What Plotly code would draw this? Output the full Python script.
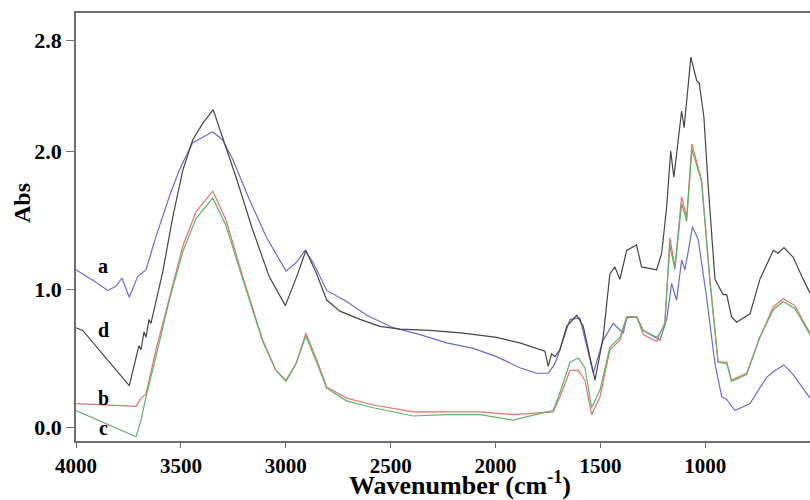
import plotly.graph_objects as go

# ---- data ----
wn_a = [4000, 3905, 3849, 3809, 3781, 3746, 3706, 3666, 3619, 3555, 3508, 3444, 3396, 3348, 3301, 3253,
        3174, 3094, 2999, 2951, 2908, 2869, 2805, 2710, 2614, 2488, 2360, 2233, 2106, 1995, 1884, 1804,
        1749, 1725, 1709, 1645, 1598, 1534, 1487, 1439, 1391, 1375, 1328, 1296, 1216, 1184, 1161, 1137,
        1113, 1097, 1061, 1034, 994, 954, 922, 898, 859, 787, 708, 668, 625, 581, 501]
abs_a = [1.14, 1.05, 0.99, 1.02, 1.08, 0.94, 1.09, 1.14, 1.38, 1.67, 1.86, 2.06, 2.10, 2.14, 2.08, 1.94,
         1.65, 1.38, 1.13, 1.19, 1.28, 1.19, 0.99, 0.91, 0.81, 0.72, 0.67, 0.61, 0.57, 0.51, 0.43, 0.39,
         0.39, 0.44, 0.49, 0.78, 0.79, 0.39, 0.63, 0.75, 0.68, 0.79, 0.80, 0.70, 0.63, 0.78, 1.04, 0.92,
         1.21, 1.14, 1.45, 1.36, 0.94, 0.46, 0.22, 0.20, 0.12, 0.17, 0.36, 0.41, 0.45, 0.38, 0.21]

wn_d = [4000, 3968, 3746, 3714, 3700, 3690, 3676, 3666, 3652, 3643, 3619, 3587, 3539, 3491, 3444, 3396,
        3346, 3301, 3237, 3158, 3079, 3002, 2948, 2904, 2853, 2805, 2742, 2646, 2551, 2456, 2313, 2154,
        1995, 1884, 1765, 1749, 1733, 1717, 1693, 1661, 1613, 1582, 1526, 1487, 1455, 1431, 1407, 1375,
        1328, 1304, 1232, 1208, 1184, 1165, 1150, 1113, 1101, 1069, 1041, 1029, 1007, 986, 954, 915,
        898, 875, 851, 787, 740, 676, 653, 625, 581, 533, 501]
abs_d = [0.72, 0.70, 0.30, 0.51, 0.59, 0.56, 0.69, 0.65, 0.78, 0.75, 0.90, 1.12, 1.52, 1.86, 2.08, 2.20,
         2.30, 2.10, 1.81, 1.43, 1.09, 0.88, 1.09, 1.28, 1.11, 0.92, 0.84, 0.78, 0.73, 0.71, 0.70, 0.68,
         0.65, 0.61, 0.55, 0.44, 0.53, 0.51, 0.56, 0.73, 0.81, 0.73, 0.34, 0.65, 1.11, 1.16, 1.07, 1.28,
         1.32, 1.16, 1.14, 1.26, 1.60, 2.00, 1.81, 2.29, 2.17, 2.68, 2.51, 2.49, 2.25, 1.74, 1.07, 0.96,
         0.96, 0.80, 0.76, 0.82, 1.07, 1.28, 1.26, 1.30, 1.23, 1.07, 0.97]

wn_bc = [4000, 3714, 3690, 3666, 3619, 3555, 3491, 3428, 3348, 3285, 3205, 3110, 3047, 2999, 2951, 2904,
         2853, 2805, 2710, 2583, 2392, 2233, 2074, 1916, 1756, 1725, 1693, 1645, 1606, 1574, 1542, 1502,
         1455, 1407, 1375, 1328, 1296, 1232, 1216, 1193, 1169, 1145, 1113, 1089, 1064, 1041, 1018, 978,
         939, 898, 875, 803, 740, 676, 629, 573, 501]
abs_b = [0.17, 0.15, 0.21, 0.24, 0.56, 0.94, 1.31, 1.56, 1.71, 1.50, 1.09, 0.63, 0.41, 0.34, 0.46, 0.68,
         0.49, 0.29, 0.21, 0.16, 0.11, 0.11, 0.11, 0.09, 0.11, 0.11, 0.22, 0.41, 0.41, 0.34, 0.09, 0.22,
         0.56, 0.63, 0.79, 0.80, 0.67, 0.62, 0.68, 0.75, 1.37, 1.16, 1.67, 1.52, 2.05, 1.91, 1.79, 1.07,
         0.47, 0.47, 0.34, 0.39, 0.65, 0.87, 0.93, 0.88, 0.68]
abs_c = [0.12, -0.07, 0.05, 0.22, 0.51, 0.92, 1.27, 1.51, 1.66, 1.46, 1.07, 0.62, 0.41, 0.33, 0.46, 0.66,
         0.47, 0.28, 0.19, 0.14, 0.08, 0.09, 0.09, 0.05, 0.11, 0.12, 0.25, 0.47, 0.50, 0.43, 0.14, 0.27,
         0.58, 0.65, 0.80, 0.80, 0.70, 0.65, 0.68, 0.75, 1.32, 1.14, 1.62, 1.49, 2.01, 1.89, 1.78, 1.05,
         0.47, 0.46, 0.33, 0.38, 0.65, 0.85, 0.91, 0.86, 0.67]

labels = ["a", "b", "c", "d"]
label_wn = [3871, 3871, 3871, 3871]
label_abs = [1.17, 0.21, -0.01, 0.70]

y_tickvals = [0.0, 1.0, 2.0, 2.8]
y_ticktext = ["0.0", "1.0", "2.0", "2.8"]
x_tickvals = [4000, 3500, 3000, 2500, 2000, 1500, 1000]

FONT = "Liberation Serif, Times New Roman, serif"

fig = go.Figure()
series = [
    (wn_a, abs_a, "#6a6ad4"),
    (wn_d, abs_d, "#454545"),
    (wn_bc, abs_b, "#e5736c"),
    (wn_bc, abs_c, "#5fb36c"),
]
for xs, ys, col in series:
    fig.add_trace(go.Scatter(x=xs, y=ys, mode="lines",
                             line=dict(color=col, width=1.2, shape="linear"),
                             showlegend=False, hoverinfo="skip"))

for t, x, y in zip(labels, label_wn, label_abs):
    fig.add_annotation(x=x, y=y, xref="x", yref="y", text=t, showarrow=False,
                       font=dict(family=FONT, size=20, color="black", weight="bold"),
                       xanchor="center", yanchor="middle")

fig.add_annotation(x=(460 - 76) / 734, y=-0.099, xref="paper", yref="paper",
                   text="Wavenumber (cm<sup>-1</sup>)", showarrow=False,
                   font=dict(family=FONT, size=26, color="black", weight="bold"),
                   xanchor="center", yanchor="middle", borderpad=0)
fig.add_annotation(x=-0.0736, y=0.556, xref="paper", yref="paper",
                   text="Abs", showarrow=False, textangle=-90,
                   font=dict(family=FONT, size=24, color="black", weight="bold"),
                   xanchor="center", yanchor="middle")

fig.update_layout(
    width=810, height=500,
    margin=dict(l=76, r=0, t=13, b=59),
    paper_bgcolor="white", plot_bgcolor="white",
    xaxis=dict(range=[4000, 501], tickvals=x_tickvals, showgrid=False, zeroline=False,
               showline=True, linecolor="#6e6e6e", linewidth=1.5, mirror=True,
               ticks="outside", ticklen=5, tickcolor="#6e6e6e", tickwidth=1.2,
               tickfont=dict(family=FONT, size=21, color="black", weight="bold")),
    yaxis=dict(range=[-0.101, 3.0], tickvals=y_tickvals, ticktext=y_ticktext,
               showgrid=False, zeroline=False,
               showline=True, linecolor="#6e6e6e", linewidth=1.5,
               ticks="outside", ticklen=8, tickcolor="#6e6e6e", tickwidth=1.2,
               tickfont=dict(family=FONT, size=22, color="black", weight="bold")),
)

fig.write_html("out.html", config={"displayModeBar": False},
               post_script="document.body.style.margin='0';document.body.style.overflow='hidden';")
